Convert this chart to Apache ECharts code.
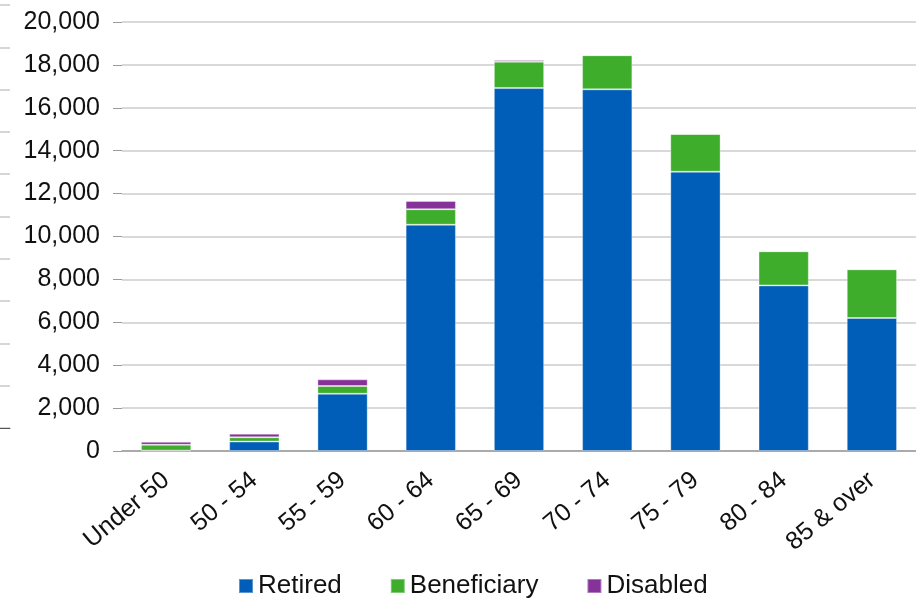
<!DOCTYPE html>
<html>
<head>
<meta charset="utf-8">
<script src="https://cdn.jsdelivr.net/npm/echarts@6/dist/echarts.min.js"></script>
<style>
    html, body { margin: 0; padding: 0; background: #fff; }
    #main { width: 916px; height: 598px; }
</style>
</head>
<body>
<div id="main"></div>
<script>
const ageGroups = ['Under 50', '50 - 54', '55 - 59', '60 - 64', '65 - 69', '70 - 74', '75 - 79', '80 - 84', '85 & over']
const retired = [20, 440, 2670, 10550, 16920, 16860, 13020, 7720, 6200]
const beneficiary = [270, 200, 360, 720, 1230, 1590, 1760, 1590, 2270]
const disabled = [140, 170, 310, 390, 80, 10, 0, 0, 0]
const yTicks = { min: 0, max: 20000, interval: 2000 }

const font = 'Liberation Sans, Arial, sans-serif'

const barSeries = (name, data, color) => ({
    name,
    type: 'bar',
    stack: 'total',
    data,
    barWidth: '57%',
    itemStyle: {
        color,
        borderColor: 'rgba(255,255,255,0.35)',
        borderWidth: 1,
    },
    emphasis: { disabled: true },
})

const chart = echarts.init(document.getElementById('main'))
chart.setOption({
    animation: false,
    textStyle: { fontFamily: font },
    grid: [
        { left: 122, right: 0, top: 22, bottom: 147 },
        // stray tick marks at the far left edge of the picture
        { left: 0, width: 10, top: 5, bottom: 170 },
    ],
    legend: {
        bottom: -6,
        left: 233,
        itemWidth: 14,
        itemHeight: 14,
        itemGap: 48,
        icon: 'rect',
        textStyle: { color: '#111', fontSize: 26, fontFamily: font },
        data: ['Retired', 'Beneficiary', 'Disabled'],
    },
    xAxis: [
        {
            type: 'category',
            gridIndex: 0,
            data: ageGroups,
            axisLine: { lineStyle: { color: '#9a9a9a', width: 1.5 } },
            axisTick: { show: false },
            axisLabel: {
                rotate: 40,
                margin: 26,
                color: '#111',
                fontSize: 25,
                fontFamily: font,
                interval: 0,
            },
        },
        {
            type: 'value',
            gridIndex: 1,
            show: true,
            axisLine: { show: true, lineStyle: { color: '#555', width: 1 } },
            axisTick: { show: false },
            axisLabel: { show: false },
            splitLine: { show: false },
        },
    ],
    yAxis: [
        {
            type: 'value',
            gridIndex: 0,
            ...yTicks,
            axisLine: { show: false },
            axisTick: { show: true, length: 9, lineStyle: { color: '#9a9a9a' } },
            axisLabel: {
                margin: 22,
                color: '#111',
                fontSize: 25,
                fontFamily: font,
                formatter: (v) => v.toLocaleString('en-US'),
            },
            splitLine: { lineStyle: { color: '#cccccc', width: 1.5 } },
        },
        {
            type: 'value',
            gridIndex: 1,
            ...yTicks,
            axisLine: { show: false },
            axisTick: { show: false },
            axisLabel: { show: false },
            splitLine: { lineStyle: { color: '#c8c8c8', width: 1.5 } },
        },
    ],
    series: [
        barSeries('Retired', retired, '#005EB8'),
        barSeries('Beneficiary', beneficiary, '#3DAD2B'),
        barSeries('Disabled', disabled, '#87329A'),
    ],
})
</script>
</body>
</html>
